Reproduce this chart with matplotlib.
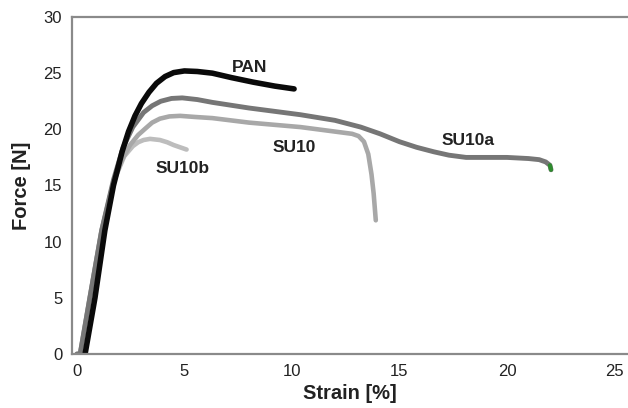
import matplotlib.pyplot as plt

plt.rcParams['font.family'] = ['Liberation Sans', 'DejaVu Sans']

# stress-strain curves
pan_x = [0.38, 0.84, 1.3, 1.7, 2.1, 2.4, 2.7, 3.0, 3.35, 3.7, 4.1, 4.5, 5.0, 5.6, 6.3,
         7.2, 8.2, 9.2, 10.1]
pan_y = [0, 5, 11, 15, 18, 19.8, 21.2, 22.3, 23.3, 24.1, 24.7, 25.05, 25.2, 25.15, 25.0,
         24.6, 24.2, 23.85, 23.6]

su10a_x = [0.0, 0.15, 0.6, 1.15, 1.7, 2.15, 2.6, 3.1, 3.5, 3.9, 4.4, 4.9, 5.6, 6.3, 8.0,
           10.4, 12.0, 13.2, 14.1, 15.0, 15.8, 16.6, 17.3, 18.1, 19.0, 20.0, 21.0, 21.5,
           21.8, 22.0, 22.05]
su10a_y = [0, 0, 5, 11, 15.5, 18.4, 20.2, 21.5, 22.1, 22.5, 22.75, 22.8, 22.65, 22.4, 21.9,
           21.3, 20.8, 20.2, 19.6, 18.9, 18.4, 18.0, 17.7, 17.5, 17.5, 17.5, 17.4, 17.3,
           17.1, 16.8, 16.4]

su10_x = [0.0, 0.15, 0.6, 1.15, 1.7, 2.1, 2.47, 2.85, 3.2, 3.5, 3.86, 4.3, 4.8, 5.5, 6.3,
          8.0, 10.4, 12.0, 12.8, 13.1, 13.35, 13.55, 13.7, 13.8, 13.9]
su10_y = [0, 0, 5, 11, 15.3, 17.3, 18.6, 19.5, 20.1, 20.6, 20.95, 21.15, 21.2, 21.1, 21.0,
          20.6, 20.2, 19.8, 19.6, 19.4, 18.9, 17.8, 16.0, 14.3, 11.9]

su10b_x = [0.0, 0.15, 0.6, 1.15, 1.7, 2.2, 2.6, 2.85, 3.1, 3.4, 3.86, 4.2, 4.5, 5.1]
su10b_y = [0, 0, 5, 11, 15.3, 17.6, 18.5, 18.85, 19.05, 19.15, 19.05, 18.85, 18.6, 18.2]

labels = ['PAN', 'SU10a', 'SU10', 'SU10b']
label_x = [8.05, 18.2, 10.1, 4.9]
label_y = [25.5, 19.05, 18.4, 16.5]

fig = plt.figure(figsize=(6.28, 4.08), dpi=100)
ax = fig.add_axes([0.1146, 0.1324, 0.8854, 0.8259])

ax.plot(su10b_x, su10b_y, color='#bdbdbd', lw=3.3, solid_capstyle='round', solid_joinstyle='round')
ax.plot(su10_x, su10_y, color='#a8a8a8', lw=3.3, solid_capstyle='round', solid_joinstyle='round')
ax.plot(su10a_x, su10a_y, color='#767676', lw=3.5, solid_capstyle='round', solid_joinstyle='round')
ax.plot(su10a_x[-2:], su10a_y[-2:], color='#2e8b2e', lw=3.0, solid_capstyle='round')
ax.plot(pan_x, pan_y, color='#0a0a0a', lw=4.0, solid_capstyle='round', solid_joinstyle='round')

for t, x, y in zip(labels, label_x, label_y):
    ax.text(x, y, t, ha='center', va='center', fontsize=12.5, fontweight='bold', color='#222222')

ax.set_xlim(-0.23, 25.63)
ax.set_ylim(0, 30)
ax.set_xticks([0, 5, 10, 15, 20, 25])
ax.set_yticks([0, 5, 10, 15, 20, 25, 30])
ax.tick_params(length=0, labelsize=12, colors='#222222')
ax.tick_params(axis='y', pad=7)
ax.tick_params(axis='x', pad=7)

ax.spines['right'].set_visible(False)
for s in ['left', 'bottom', 'top']:
    ax.spines[s].set_color('#8a8a8a')
    ax.spines[s].set_linewidth(1.6)

ax.set_xlabel('Strain [%]', fontsize=14.5, fontweight='bold', color='#222222', labelpad=4)
ax.set_ylabel('Force [N]', fontsize=14.5, fontweight='bold', color='#222222', labelpad=9)

fig.savefig('out.png', dpi=100)
